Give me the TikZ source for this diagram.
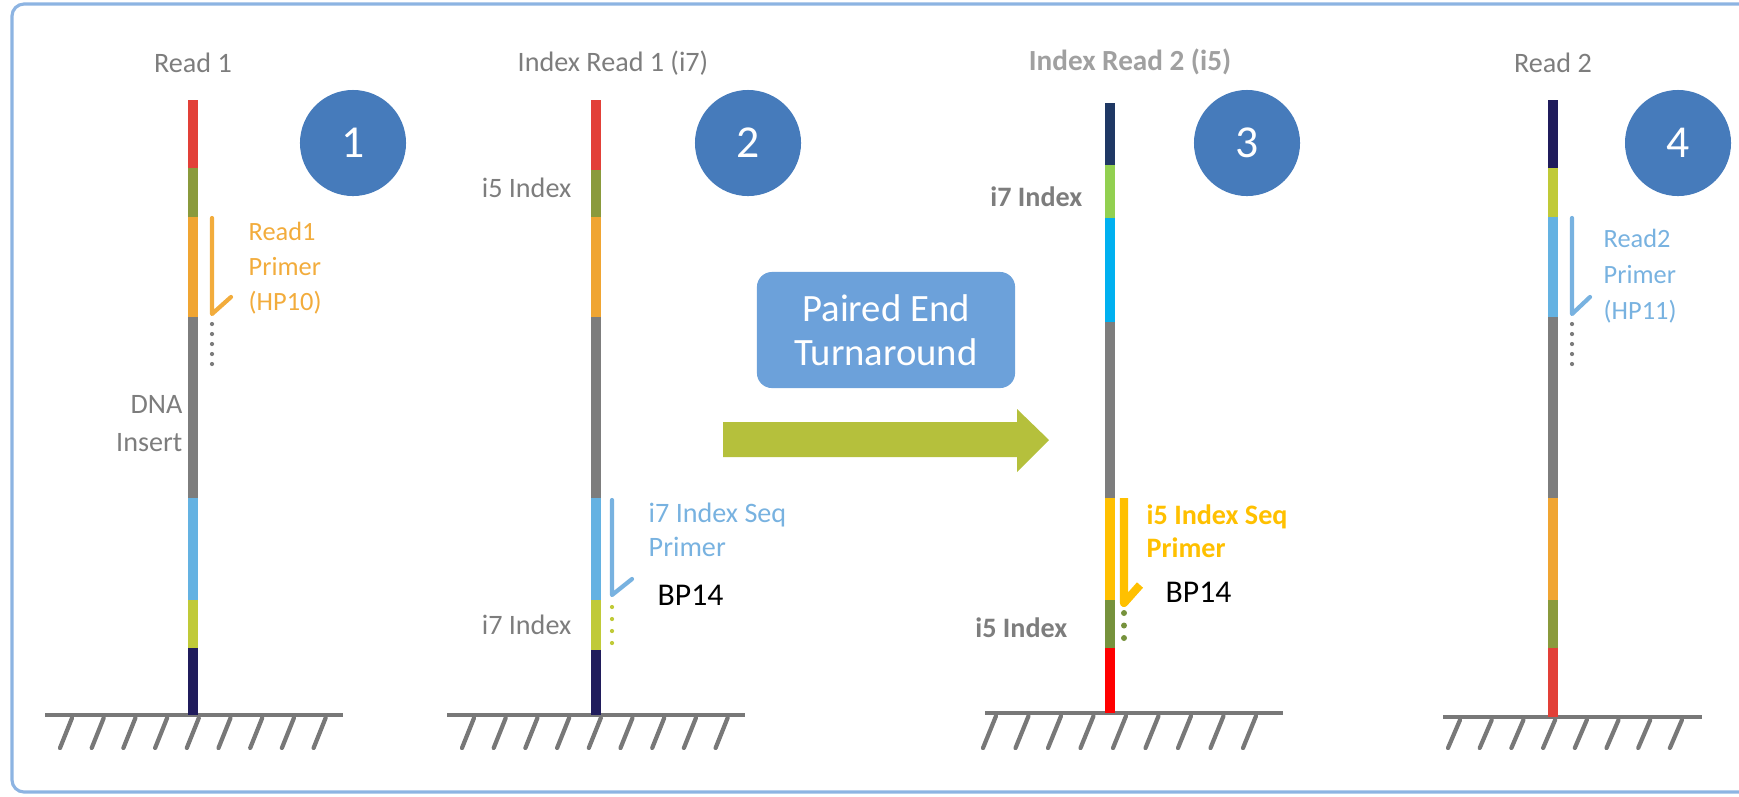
\documentclass[tikz,border=0pt]{standalone}
\usepackage{fontspec}
\setmainfont{Carlito}

\definecolor{framecol}{RGB}{141,180,226}
\definecolor{stepblue}{RGB}{70,123,187}
\definecolor{boxblue}{RGB}{108,161,218}
\definecolor{arrowgreen}{RGB}{181,192,60}
\definecolor{labgray}{RGB}{125,125,125}
\definecolor{titlegray}{RGB}{160,160,160}
\definecolor{grndgray}{RGB}{120,120,120}
% illumina strands
\definecolor{sRed}{RGB}{226,64,56}
\definecolor{sOlive}{RGB}{138,154,60}
\definecolor{sOrange}{RGB}{240,165,50}
\definecolor{sGray}{RGB}{125,125,125}
\definecolor{sBlue}{RGB}{100,178,226}
\definecolor{sYellow}{RGB}{192,202,56}
\definecolor{sNavy}{RGB}{32,28,92}
% office strand
\definecolor{oNavy}{RGB}{31,56,100}
\definecolor{oGreen}{RGB}{146,208,80}
\definecolor{oCyan}{RGB}{0,176,240}
\definecolor{oGold}{RGB}{255,192,0}
\definecolor{oOlive}{RGB}{118,146,60}
\definecolor{oRed}{RGB}{255,0,0}
\definecolor{primOrange}{RGB}{242,172,60}
\definecolor{primBlue}{RGB}{120,178,224}

\tikzset{
    strand/.style={line width=2.6pt},
    primer/.style={line width=1.2pt, line join=round, line cap=round},
    ground/.style={line width=1.4pt, draw=grndgray},
    hatch/.style={line width=1.2pt, draw=grndgray, line cap=round},
    stepnum/.style={circle, fill=stepblue, minimum size=1.06cm, inner sep=0pt,
        text=white, font=\fontsize{13}{13}\selectfont},
    title/.style={inner sep=0pt, text=labgray, font=\fontsize{8}{9.6}\selectfont},
    lab/.style={inner sep=0pt, text=labgray, font=\fontsize{8}{10.8}\selectfont},
    boldlab/.style={inner sep=0pt, text=labgray, font=\bfseries\fontsize{8}{9.4}\selectfont},
    bpnote/.style={inner sep=0pt, text=black, font=\fontsize{9}{10}\selectfont},
}

\begin{document}
\begin{tikzpicture}[x=0.01cm, y=-0.01cm]
    \useasboundingbox (0,0) rectangle (1739,796);
    \draw[framecol, line width=0.9pt, rounded corners=0.12cm] (12,4) rectangle (1800,792);

    % ground
    \draw[ground] (45,715) -- (343,715);
    \foreach \k in {0,...,8} \draw[hatch] (60+31.7*\k,748) -- (72+31.7*\k,718);
    \draw[ground] (447,715) -- (745,715);
    \foreach \k in {0,...,8} \draw[hatch] (462+31.7*\k,748) -- (474+31.7*\k,718);
    \draw[ground] (985,713) -- (1283,713);
    \foreach \k in {0,...,8} \draw[hatch] (983+32.5*\k,748) -- (996+32.5*\k,716);
    \draw[ground] (1443,717) -- (1702,717);
    \foreach \k in {0,...,7} \draw[hatch] (1448+31.7*\k,748) -- (1460+31.7*\k,720);

    % strands
    \foreach \ya/\yb/\c in {100/168/sRed, 168/217/sOlive, 217/317/sOrange, 317/498/sGray,
        498/600/sBlue, 600/648/sYellow, 648/715/sNavy}
        \draw[strand, \c] (193,\ya) -- (193,\yb);
    \foreach \ya/\yb/\c in {100/170/sRed, 170/217/sOlive, 217/317/sOrange, 317/498/sGray,
        498/600/sBlue, 600/650/sYellow, 650/715/sNavy}
        \draw[strand, \c] (596,\ya) -- (596,\yb);
    \foreach \ya/\yb/\c in {103/165/oNavy, 165/218/oGreen, 218/322/oCyan, 322/498/sGray,
        498/600/oGold, 600/648/oOlive, 648/713/oRed}
        \draw[strand, \c] (1110,\ya) -- (1110,\yb);
    \foreach \ya/\yb/\c in {100/168/sNavy, 168/217/sYellow, 217/317/sBlue, 317/498/sGray,
        498/600/sOrange, 600/648/sOlive, 648/717/sRed}
        \draw[strand, \c] (1553,\ya) -- (1553,\yb);

    % primers
    \draw[primer, primOrange] (212,218) -- (212,314) -- (231,297);
    \foreach \d in {0,...,4} \fill[sGray] (212,324+10*\d) circle (0.6pt);
    \draw[primer, primBlue] (612,500) -- (612,595) -- (632,579);
    \foreach \d in {0,...,3} \fill[sYellow] (612,607+12*\d) circle (0.6pt);
    \draw[primer, oGold, line width=2.3pt, line cap=butt] (1124,498) -- (1124,603) -- (1140,585);
    \foreach \d in {0,...,2} \fill[oOlive] (1124,613+12.5*\d) circle (0.85pt);
    \draw[primer, primBlue] (1572,218) -- (1572,314) -- (1590,297);
    \foreach \d in {0,...,4} \fill[sGray] (1572,324+10*\d) circle (0.6pt);

    % step numbers
    \node[stepnum] (c1) at (353,143) {1};
    \node[stepnum] (c2) at (748,143) {2};
    \node[stepnum] (c3) at (1247,143) {3};
    \node[stepnum] (c4) at (1678,143) {4};

    % titles
    \node[title] (t1) at (193,63) {Read 1};
    \node[title] (t2) at (613,63) {Index Read 1 (i7)};
    \node[title, text=titlegray, font=\bfseries\fontsize{8.3}{10}\selectfont] (t3) at (1130,62) {Index Read 2 (i5)};
    \node[title] (t4) at (1553,63) {Read 2};

    % labels
    \node[lab, text=primOrange, anchor=west, align=left, font=\fontsize{7.5}{10}\selectfont]
        (p1) at (248,268) {Read1\\Primer\\(HP10)};
    \node[lab, anchor=east, align=right] (dna) at (183,424) {DNA\\Insert};
    \node[lab, anchor=east] (i5a) at (572,188) {i5 Index};
    \node[lab, anchor=east] (i7a) at (572,625) {i7 Index};
    \node[lab, text=primBlue, anchor=west, align=left, font=\fontsize{8}{9.7}\selectfont]
        (p2) at (648,530) {i7 Index Seq\\Primer};
    \node[bpnote, anchor=west] (bp2) at (657,595) {BP14};
    \node[boldlab, anchor=east] (i7b) at (1083,197) {i7 Index};
    \node[boldlab, anchor=east] (i5b) at (1068,628) {i5 Index};
    \node[boldlab, text=oGold, anchor=west, align=left] (p3) at (1146,531) {i5 Index Seq\\Primer};
    \node[bpnote, anchor=west] (bp3) at (1165,592) {BP14};
    \node[lab, text=primBlue, anchor=west, align=left, font=\fontsize{7.5}{10.2}\selectfont]
        (p4) at (1603,276) {Read2\\Primer\\(HP11)};

    % turnaround
    \node[fill=boxblue, rounded corners=0.15cm, minimum width=2.58cm, minimum height=1.16cm,
        text=white, align=center, font=\fontsize{11}{12.5}\selectfont] (pe) at (886,330)
        {Paired End\\Turnaround};
    \fill[arrowgreen] (723,422) -- (1017,422) -- (1017,409) -- (1049,440)
        -- (1017,472) -- (1017,457) -- (723,457) -- cycle;
\end{tikzpicture}
\end{document}
